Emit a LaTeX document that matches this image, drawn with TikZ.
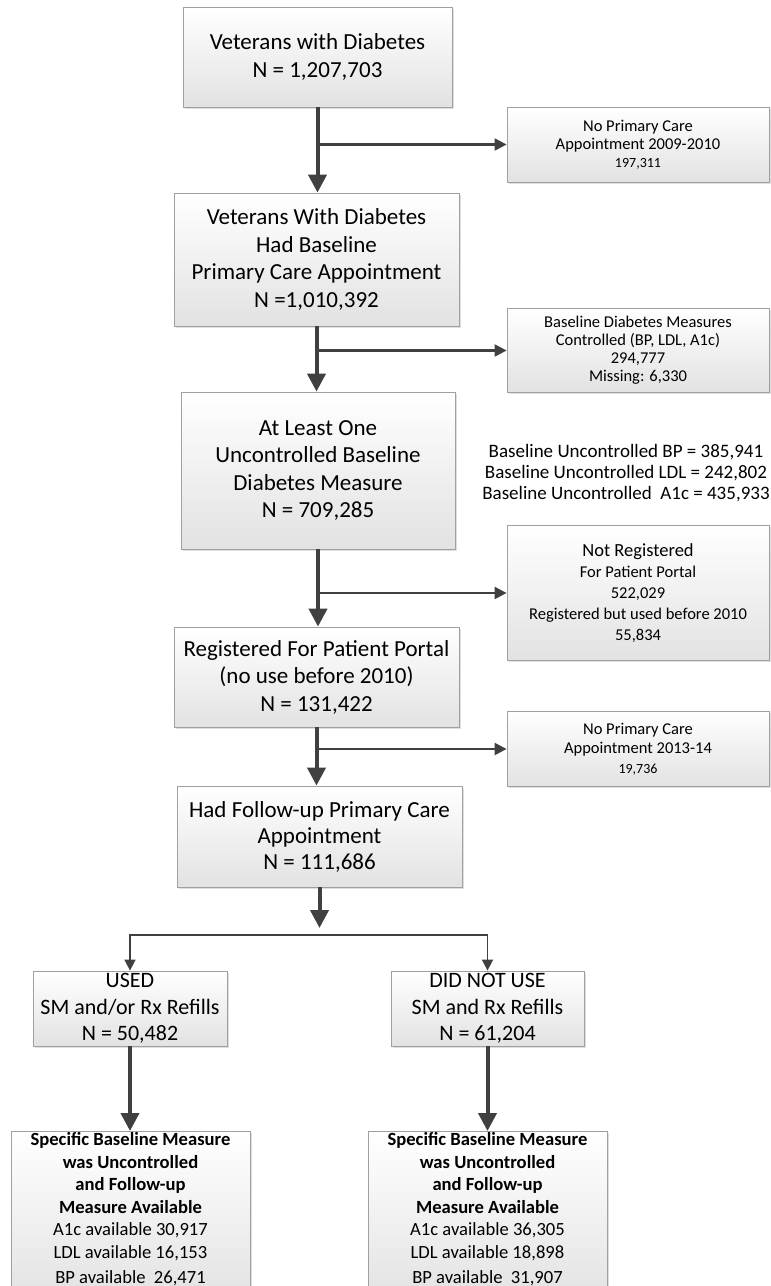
\documentclass[tikz,border=0pt]{standalone}
\usepackage{fontspec}
\setmainfont{Carlito}
\usetikzlibrary{arrows.meta,shadows}

\definecolor{arrowgray}{HTML}{404040}
\definecolor{boxline}{HTML}{A0A0A0}
\definecolor{boxfill}{HTML}{E2E2E2}

\tikzset{
  box/.style={draw=boxline, line width=0.8pt, top color=white, bottom color=boxfill,
    drop shadow={shadow xshift=1.5pt, shadow yshift=-1.5pt, opacity=0.25},
    align=center, inner sep=0pt},
  bigtext/.style={font=\fontsize{23}{27.5}\selectfont},
  sidetext/.style={font=\fontsize{16.5}{18}\selectfont},
  flow/.style={draw=arrowgray, line width=4pt, -{Triangle[length=18pt,width=18pt]}},
  exclude/.style={draw=arrowgray, line width=2.2pt, -{Triangle[length=12pt,width=12pt]}},
  split/.style={draw=arrowgray, line width=1.6pt, -{Triangle[length=11pt,width=11pt]}},
}

\begin{document}
\begin{tikzpicture}[x=1pt,y=-1pt]
  \useasboundingbox (0,0) rectangle (771,1286);
  \clip (0,0) rectangle (771,1286);

  % main column
  \node [box, bigtext, minimum width=269pt, minimum height=100pt] (vet) at (317.5,57)
    {Veterans with Diabetes\\N = 1,207,703};
  \node [box, bigtext, minimum width=285pt, minimum height=133pt] (base) at (316.5,259.5)
    {Veterans With Diabetes\\Had Baseline\\Primary Care Appointment\\N =1,010,392};
  \node [box, bigtext, minimum width=274pt, minimum height=157pt] (uncon) at (318,470.5)
    {At Least One\\Uncontrolled Baseline\\Diabetes Measure\\N = 709,285};
  \node [box, bigtext, minimum width=285pt, minimum height=100pt] (reg) at (316.5,677)
    {Registered For Patient Portal\\(no use before 2010)\\N = 131,422};
  \node [box, font=\fontsize{23}{26}\selectfont, minimum width=285pt, minimum height=101pt] (follow) at (319.5,836.5)
    {Had Follow-up Primary Care\\Appointment\\N = 111,686};

  % excluded
  \node [box, sidetext, minimum width=262pt, minimum height=75pt] (noappt) at (638,144.5)
    {No Primary Care\\Appointment 2009-2010\\{\fontsize{14}{14}\selectfont 197,311}};
  \node [box, sidetext, minimum width=262pt, minimum height=84pt] (ctrl) at (638,350.5)
    {Baseline Diabetes Measures\\Controlled (BP, LDL, A1c)\\294,777\\Missing: 6,330};
  \node [box, font=\fontsize{16.5}{21}\selectfont, minimum width=262pt, minimum height=135pt] (notreg) at (638,593)
    {{\fontsize{18.5}{21}\selectfont Not Registered}\\For Patient Portal\\522,029\\Registered but used before 2010\\55,834};
  \node [box, font=\fontsize{16.5}{19.5}\selectfont, minimum width=262pt, minimum height=75pt] (noappt2) at (638,749)
    {No Primary Care\\Appointment 2013-14\\{\fontsize{14}{14}\selectfont 19,736}};
  \node [align=center, font=\fontsize{19}{21}\selectfont] (stats) at (626,473)
    {Baseline Uncontrolled BP = 385,941\\Baseline Uncontrolled LDL = 242,802\\Baseline Uncontrolled\ \ A1c = 435,933};

  % groups
  \node [box, font=\fontsize{22}{26.5}\selectfont, minimum width=194pt, minimum height=75pt] (used) at (130,1008.5)
    {USED\\SM and/or Rx Refills\\N = 50,482};
  \node [box, font=\fontsize{22}{26.5}\selectfont, minimum width=193pt, minimum height=75pt] (notused) at (487.5,1008.5)
    {DID NOT USE\\SM and Rx Refills\\N = 61,204};
  \node [box, anchor=north, inner ysep=1pt, font=\fontsize{18.6}{22.6}\selectfont, minimum width=239pt] (specused) at (130.5,1131)
    {\textbf{Specific Baseline Measure}\\\textbf{was Uncontrolled}\\\textbf{and Follow-up}\\\textbf{Measure Available}\\A1c available 30,917\\LDL available 16,153\\[2.5pt]BP available\ \ 26,471\rule[-20pt]{0pt}{20pt}};
  \node [box, anchor=north, inner ysep=1pt, font=\fontsize{18.6}{22.6}\selectfont, minimum width=239pt] (specnot) at (487.5,1131)
    {\textbf{Specific Baseline Measure}\\\textbf{was Uncontrolled}\\\textbf{and Follow-up}\\\textbf{Measure Available}\\A1c available 36,305\\LDL available 18,898\\[2.5pt]BP available\ \ 31,907\rule[-20pt]{0pt}{20pt}};

  \coordinate (b1) at (317.5,144.5);
  \coordinate (b2) at (316.5,350.5);
  \coordinate (b3) at (318,593);
  \coordinate (b4) at (316.5,749);
  \coordinate (sp) at (319.5,935);

  \draw [flow] (vet.south) -- (vet.south |- base.north);
  \draw [flow] (base.south) -- (base.south |- uncon.north);
  \draw [flow] (uncon.south) -- (uncon.south |- reg.north);
  \draw [flow] (reg.south) -- (reg.south |- follow.north);
  \draw [flow] (follow.south) -- ([yshift=7pt]sp);

  \draw [exclude] (b1) -- (b1 -| noappt.west);
  \draw [exclude] (b2) -- (b2 -| ctrl.west);
  \draw [exclude] (b3) -- (b3 -| notreg.west);
  \draw [exclude] (b4) -- (b4 -| noappt2.west);

  \draw [split] (sp) -| (used.north);
  \draw [split] (sp) -| (notused.north);
  \draw [flow] (used.south) -- (used.south |- specused.north);
  \draw [flow] (notused.south) -- (notused.south |- specnot.north);
\end{tikzpicture}
\end{document}
